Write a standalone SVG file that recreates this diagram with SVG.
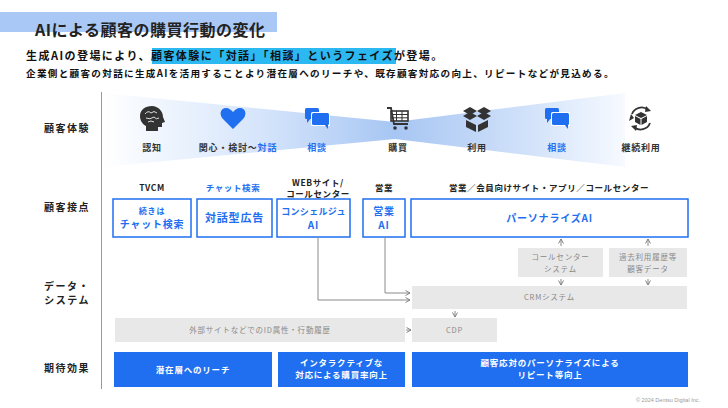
<svg xmlns="http://www.w3.org/2000/svg" width="728" height="408" viewBox="0 0 728 408">
<defs>
<style>
text{font-family:"Noto Sans CJK JP","Noto Sans",sans-serif;}
.lbl{font-size:10px;font-weight:bold;fill:#222;letter-spacing:1.5px;text-anchor:end;}
.ic{font-size:9px;font-weight:bold;fill:#333;text-anchor:middle;letter-spacing:0.8px;}
.hd{font-size:8.5px;font-weight:bold;fill:#222;text-anchor:middle;letter-spacing:0.6px;}
.bx{fill:#fff;stroke:#1f6ff0;stroke-width:1.5;}
.bt{font-size:10px;font-weight:bold;fill:#1f6ff0;text-anchor:middle;letter-spacing:0.8px;}
.gb{fill:#e8e8e8;}
.gt{font-size:7.5px;fill:#888;text-anchor:middle;letter-spacing:0.8px;}
.bb{fill:#1f6ff0;}
.wt{font-size:8.5px;font-weight:bold;fill:#fff;text-anchor:middle;letter-spacing:0.8px;}
.cn{fill:none;stroke:#8a8a8a;stroke-width:1;}
.dk{fill:#333;}
.bl{fill:#1f6ff0;}
</style>
<linearGradient id="band" x1="103" y1="0" x2="625" y2="0" gradientUnits="userSpaceOnUse">
<stop offset="0" stop-color="#ffffff"/>
<stop offset="0.3" stop-color="#d6e5fb"/>
<stop offset="0.56" stop-color="#a7c6f3"/>
<stop offset="0.8" stop-color="#cfe0f9"/>
<stop offset="1" stop-color="#f7faff"/>
</linearGradient>
<marker id="ar" markerWidth="6" markerHeight="6" refX="5" refY="3" orient="auto" markerUnits="userSpaceOnUse">
<path d="M0.5,0.5 L5,3 L0.5,5.5" fill="none" stroke="#777" stroke-width="0.9"/>
</marker>
</defs>

<rect width="728" height="408" fill="#fff"/>

<g id="title">
<rect x="0" y="12" width="277" height="20" fill="#a9c8f5"/>
<text x="35" y="36" font-size="16" font-weight="bold" fill="#222" letter-spacing="0.5">AIによる顧客の購買行動の変化</text>
</g>

<g id="subtitle">
<rect x="152" y="48" width="244" height="16" fill="#2cb9f2"/>
<text x="26" y="60" font-size="11" font-weight="bold" fill="#111" letter-spacing="1.45">生成AIの登場により、顧客体験に「対話」「相談」というフェイズが登場。</text>
<text x="26" y="77" font-size="9.6" font-weight="bold" fill="#111" letter-spacing="1.3">企業側と顧客の対話に生成AIを活用することより潜在層へのリーチや、既存顧客対応の向上、リピートなどが見込める。</text>
</g>

<g id="axis">
<line x1="101.5" y1="92" x2="101.5" y2="389" stroke="#999" stroke-width="1"/>
<text class="lbl" x="90" y="132">顧客体験</text>
<text class="lbl" x="90" y="211">顧客接点</text>
<text class="lbl" x="90" y="290">データ・</text>
<text class="lbl" x="90" y="304">システム</text>
<text class="lbl" x="90" y="372">期待効果</text>
</g>

<g id="experience">
<polygon points="103,93 395,122 625,93 625,167 395,139 103,167" fill="url(#band)"/>
<g id="icon-ninchi">
<path class="dk" d="M152,106 C158,106 163,111 163,117 L165,122 L162,123 L162,127 L158,127 L158,131 L146,131 L146,126 C142,124 140,120 140,116 C140,110 145,106 152,106 Z"/>
<path d="M145,114 q3,-4 6,-1 q3,-3 6,0 M146,118 q4,2 8,-1 q2,3 5,1 M148,122 q3,-2 6,0" fill="none" stroke="#ddd" stroke-width="1"/>
<text class="ic" x="152" y="151">認知</text>
</g>
<g id="icon-kanshin">
<path class="bl" d="M233,129 L223,119 C219,115 220,108 226,108 C229,108 231,110 233,112 C235,110 237,108 240,108 C246,108 247,115 243,119 Z"/>
<text class="ic" x="238" y="151"><tspan>関心・検討～</tspan><tspan fill="#1f6ff0">対話</tspan></text>
</g>
<g id="icon-soudan1">
<rect class="bl" x="305" y="108" width="14" height="11" rx="1.5"/>
<path class="bl" d="M307,118 L307,123 L311,118 Z"/>
<rect x="311" y="112" width="19" height="14" rx="1.5" fill="#fff"/>
<rect class="bl" x="312" y="113" width="17" height="12" rx="1.5"/>
<path class="bl" d="M324,124 L328,129 L328,124 Z"/>
<text class="ic" x="317" y="151" style="fill:#1f6ff0">相談</text>
</g>
<g id="icon-kounyu">
<path d="M387,108 L391,108 L394,124 L408,124" fill="none" stroke="#333" stroke-width="1.8"/>
<rect x="391" y="111" width="17" height="10" fill="none" stroke="#333" stroke-width="1.6"/>
<path d="M391,114.5 H408 M391,117.8 H408 M396.5,111 V121 M402,111 V121" stroke="#333" stroke-width="1"/>
<circle class="dk" cx="395" cy="128" r="1.8"/>
<circle class="dk" cx="406" cy="128" r="1.8"/>
<text class="ic" x="398" y="151">購買</text>
</g>
<g id="icon-riyou">
<path class="dk" d="M470,107 L477,111 L470,115 L463,111 Z M484,107 L491,111 L484,115 L477,111 Z M463,116 L470,112 L477,116 L470,120 Z M477,116 L484,112 L491,116 L484,120 Z"/>
<path class="dk" d="M466,120 L476,125 L476,132 L466,127 Z M478,125 L488,120 L488,127 L478,132 Z"/>
<text class="ic" x="477" y="151">利用</text>
</g>
<g id="icon-soudan2">
<rect class="bl" x="545" y="108" width="14" height="11" rx="1.5"/>
<path class="bl" d="M547,118 L547,123 L551,118 Z"/>
<rect x="551" y="112" width="19" height="14" rx="1.5" fill="#fff"/>
<rect class="bl" x="552" y="113" width="17" height="12" rx="1.5"/>
<path class="bl" d="M564,124 L568,129 L568,124 Z"/>
<text class="ic" x="557" y="151" style="fill:#1f6ff0">相談</text>
</g>
<g id="icon-keizoku">
<path d="M632,114 A10,10 0 0 1 648,110" fill="none" stroke="#333" stroke-width="1.8"/>
<path class="dk" d="M646,106 L651,111 L645,112 Z"/>
<path d="M650,123 A10,10 0 0 1 634,127" fill="none" stroke="#333" stroke-width="1.8"/>
<path class="dk" d="M636,131 L631,126 L637,125 Z"/>
<path d="M629,121 L631,114 L634,118 Z" class="dk"/>
<path class="dk" d="M641,112 L647,115 L641,118 L635,115 Z M635,116 L640.5,119 L640.5,125 L635,122 Z M641.5,119 L647,116 L647,122 L641.5,125 Z"/>
<text class="ic" x="641" y="151">継続利用</text>
</g>
</g>

<g id="touchpoint-headers">
<text class="hd" x="152" y="191">TVCM</text>
<text class="hd" x="233" y="191" style="fill:#1f6ff0">チャット検索</text>
<text class="hd" x="318" y="186">WEBサイト/</text>
<text class="hd" x="318" y="197">コールセンター</text>
<text class="hd" x="384" y="191">営業</text>
<text class="hd" x="549" y="191">営業／会員向けサイト・アプリ／コールセンター</text>
</g>

<g id="node-tvcm">
<rect class="bx" x="113" y="199" width="78" height="38"/>
<text class="bt" x="152" y="214" style="font-size:8px">続きは</text>
<text class="bt" x="152" y="228">チャット検索</text>
</g>
<g id="node-taiwa">
<rect class="bx" x="197" y="199" width="75" height="38"/>
<text class="bt" x="234.5" y="222" style="font-size:11px">対話型広告</text>
</g>
<g id="node-concierge">
<rect class="bx" x="277" y="199" width="73" height="38"/>
<text class="bt" x="313.5" y="215" style="font-size:9px;letter-spacing:0.3px">コンシェルジュ</text>
<text class="bt" x="313.5" y="229">AI</text>
</g>
<g id="node-eigyo">
<rect class="bx" x="363" y="199" width="42" height="38"/>
<text class="bt" x="384" y="215">営業</text>
<text class="bt" x="384" y="229">AI</text>
</g>
<g id="node-personalize">
<rect class="bx" x="411" y="199" width="277" height="38"/>
<text class="bt" x="549.5" y="222">パーソナライズAI</text>
</g>

<g id="node-callcenter">
<rect class="gb" x="518" y="248" width="85" height="29"/>
<text class="gt" x="560.5" y="260">コールセンター</text>
<text class="gt" x="560.5" y="272">システム</text>
</g>
<g id="node-history">
<rect class="gb" x="609" y="248" width="78" height="29"/>
<text class="gt" x="648" y="260">過去利用履歴等</text>
<text class="gt" x="648" y="272">顧客データ</text>
</g>
<g id="node-crm">
<rect class="gb" x="412" y="286" width="275" height="23"/>
<text class="gt" x="549.5" y="300">CRMシステム</text>
</g>
<g id="node-cdp">
<rect class="gb" x="412" y="318" width="85" height="24"/>
<text class="gt" x="454.5" y="333">CDP</text>
</g>
<g id="node-external">
<rect class="gb" x="115" y="318" width="290" height="24"/>
<text class="gt" x="260" y="333">外部サイトなどでのID属性・行動履歴</text>
</g>

<g id="connectors">
<path class="cn" d="M318,237 V300 H410" marker-end="url(#ar)"/>
<path class="cn" d="M385,237 V293 H410" marker-end="url(#ar)"/>
<path class="cn" d="M561,246 V239" marker-end="url(#ar)"/>
<path class="cn" d="M648,246 V239" marker-end="url(#ar)"/>
<path class="cn" d="M561,279 V285" marker-end="url(#ar)"/>
<path class="cn" d="M648,279 V285" marker-end="url(#ar)"/>
<path class="cn" d="M455,311 V317" marker-end="url(#ar)"/>
<path class="cn" d="M406,330 H411" marker-end="url(#ar)"/>
</g>

<g id="effect-reach">
<rect class="bb" x="114" y="352" width="158" height="35"/>
<text class="wt" x="193" y="373">潜在層へのリーチ</text>
</g>
<g id="effect-interactive">
<rect class="bb" x="278" y="352" width="127" height="35"/>
<text class="wt" x="341.5" y="366">インタラクティブな</text>
<text class="wt" x="341.5" y="378">対応による購買率向上</text>
</g>
<g id="effect-repeat">
<rect class="bb" x="412" y="352" width="276" height="35"/>
<text class="wt" x="550" y="366">顧客応対のパーソナライズによる</text>
<text class="wt" x="550" y="378">リピート等向上</text>
</g>

<text x="700" y="402" font-size="5.5" fill="#999" text-anchor="end" style="font-family:'Liberation Sans',sans-serif">© 2024 Dentsu Digital Inc.</text>
</svg>
